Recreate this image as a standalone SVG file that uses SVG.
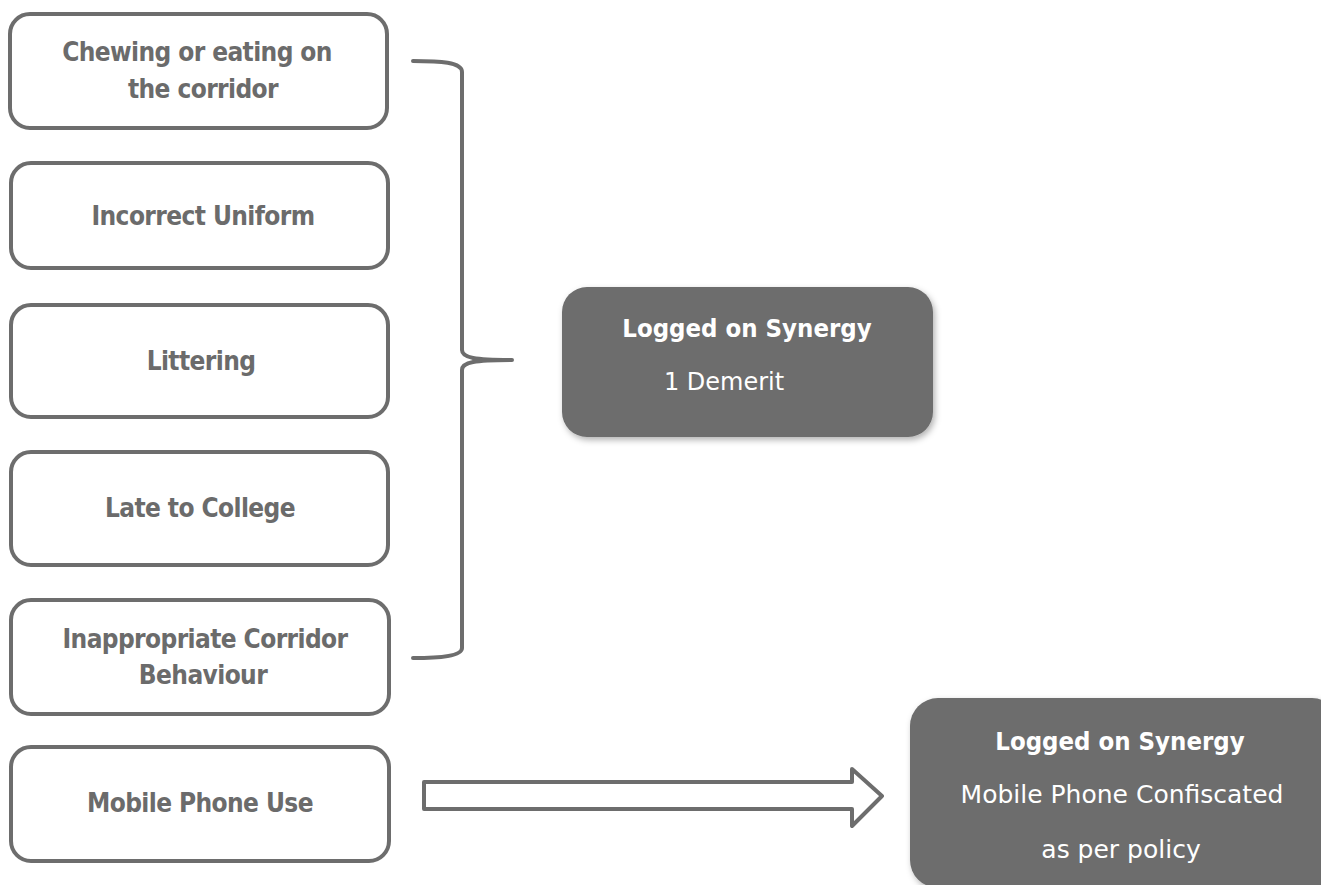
<svg xmlns="http://www.w3.org/2000/svg" width="1321" height="885" viewBox="0 0 1321 885">
<defs>
<filter id="sh" x="-10%" y="-10%" width="130%" height="130%">
<feDropShadow dx="2" dy="3" stdDeviation="3" flood-color="#000" flood-opacity="0.3"/>
</filter>
<style>
.box{fill:#fff;stroke:#6d6d6d;stroke-width:4}
.lbl{font-family:"DejaVu Sans",Verdana,sans-serif;font-stretch:condensed;font-weight:bold;font-size:26px;fill:#6b6b6b;text-anchor:middle;letter-spacing:-0.6px}
.dark{fill:#6d6d6d;filter:url(#sh)}
.ttl{font-family:"DejaVu Sans",Verdana,sans-serif;font-stretch:condensed;font-weight:bold;font-size:25.5px;fill:#fff;text-anchor:middle}
.sub{font-family:"DejaVu Sans",Verdana,sans-serif;font-size:24px;fill:#fff;text-anchor:middle}
.sub2{font-family:"DejaVu Sans",Verdana,sans-serif;font-size:25px;fill:#fff;text-anchor:middle}
.con{fill:none;stroke:#6d6d6d;stroke-width:4;stroke-linejoin:round;stroke-linecap:round}
</style>
</defs>
<g id="n1"><rect class="box" x="10" y="14" width="377" height="114" rx="20"/><text class="lbl" x="197" y="61">Chewing or eating on</text><text class="lbl" x="203" y="98">the corridor</text></g>
<g id="n2"><rect class="box" x="11" y="163" width="377" height="105" rx="20"/><text class="lbl" x="203" y="225">Incorrect Uniform</text></g>
<g id="n3"><rect class="box" x="11" y="305" width="377" height="112" rx="20"/><text class="lbl" x="201" y="370">Littering</text></g>
<g id="n4"><rect class="box" x="11" y="452" width="377" height="113" rx="20"/><text class="lbl" x="200" y="517">Late to College</text></g>
<g id="n5"><rect class="box" x="11" y="600" width="378" height="114" rx="20"/><text class="lbl" x="205" y="648">Inappropriate Corridor</text><text class="lbl" x="203" y="684">Behaviour</text></g>
<g id="n6"><rect class="box" x="11" y="747" width="378" height="114" rx="20"/><text class="lbl" x="200" y="812">Mobile Phone Use</text></g>
<g id="r1"><rect class="dark" x="562" y="287" width="371" height="150" rx="25"/><text class="ttl" x="747" y="337">Logged on Synergy</text><text class="sub" x="724" y="390">1 Demerit</text></g>
<g id="r2"><rect class="dark" x="910" y="698" width="430" height="190" rx="28"/><text class="ttl" x="1120" y="750">Logged on Synergy</text><text class="sub2" x="1122" y="803">Mobile Phone Confiscated</text><text class="sub2" x="1121" y="858">as per policy</text></g>
<g id="connectors">
<path class="con" d="M413,61 C440,61 462,62 462,72 L462,350 C462,358 475,360 512,360 C475,360 462,362 462,370 L462,648 C462,656 440,658 413,658"/>
<path class="con" d="M424,782 L852,782 L852,769 L882,796 L852,826 L852,809 L424,809 Z" stroke-width="3.5"/>
</g>
</svg>
